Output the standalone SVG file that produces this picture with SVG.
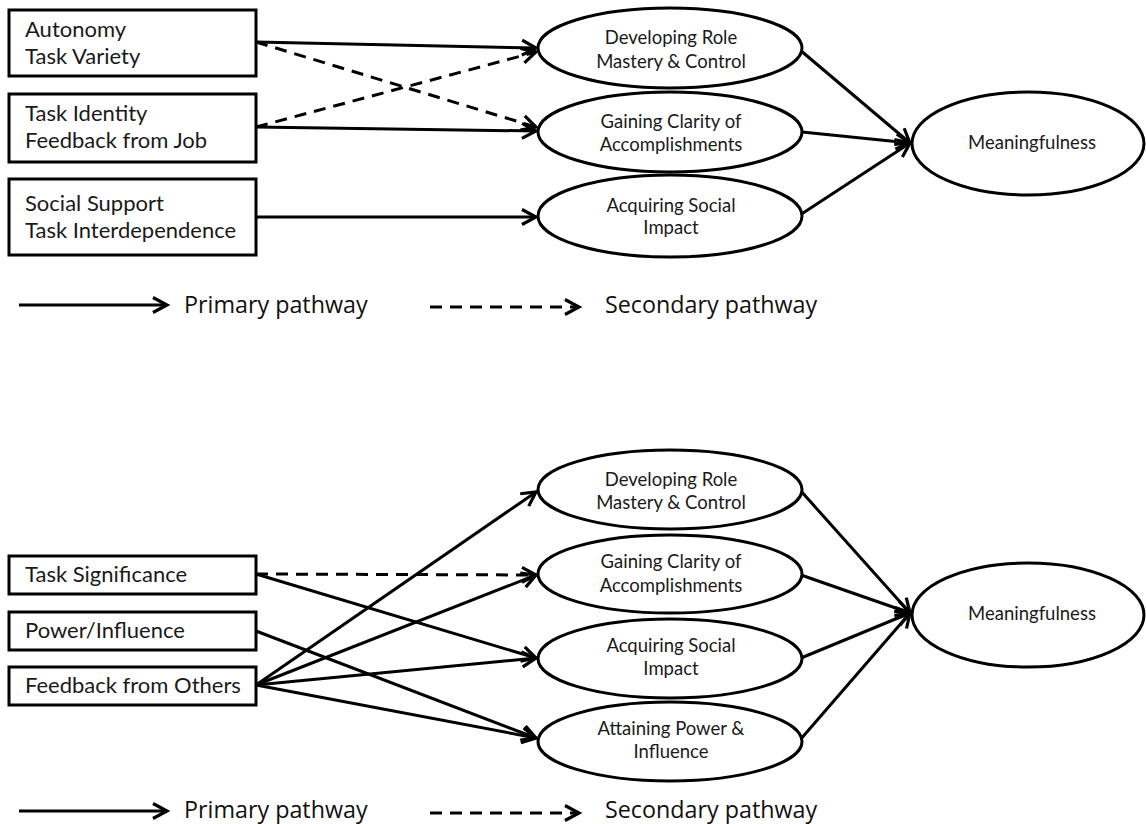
<svg xmlns="http://www.w3.org/2000/svg" width="1146" height="824" viewBox="0 0 1146 824">
  <defs>
    <style>
      .box { fill: #fff; stroke: #000; stroke-width: 3; }
      .oval { fill: #fff; stroke: #000; stroke-width: 3; }
      .lbl { font-family: Lato, "Liberation Sans", sans-serif; fill: #1a1a1a; }
      .src { font-size: 22px; }
      .mid { font-size: 18.5px; text-anchor: middle; }
      .leg { font-family: "Open Sans", "Liberation Sans", sans-serif; font-size: 23.3px; fill: #111; }
      .link { fill: none; stroke: #000; stroke-width: 3; marker-end: url(#head); }
      .dash { stroke-dasharray: 12 8; }
    </style>
    <marker id="head" viewBox="0 0 18 18" refX="16" refY="9" markerWidth="18" markerHeight="18" markerUnits="userSpaceOnUse" orient="auto" overflow="visible">
      <path d="M2,1.5 L16,9 L2,16.5" fill="none" stroke="#000" stroke-width="3.2" stroke-dasharray="none" stroke-linejoin="miter"/>
    </marker>
  </defs>
  <rect width="1146" height="824" fill="#fff"/>

  <!-- upper model: connectors -->
  <g id="connectors-upper">
    <line class="link" x1="256" y1="42" x2="536" y2="48"/>
    <line class="link dash" x1="256" y1="42" x2="536" y2="127"/>
    <line class="link dash" x1="256" y1="127" x2="536" y2="52"/>
    <line class="link" x1="256" y1="127" x2="536" y2="131"/>
    <line class="link" x1="256" y1="217" x2="536" y2="217"/>
    <line class="link" x1="800" y1="50" x2="910" y2="143"/>
    <line class="link" x1="802" y1="132" x2="910" y2="143"/>
    <line class="link" x1="800" y1="215" x2="910" y2="143"/>
  </g>

  <g id="autonomy-variety">
    <rect class="box" x="9" y="10" width="247" height="66"/>
    <text class="lbl src" x="25" y="36.5">Autonomy</text>
    <text class="lbl src" x="25" y="64">Task Variety</text>
  </g>
  <g id="identity-feedback-job">
    <rect class="box" x="9" y="94" width="247" height="68"/>
    <text class="lbl src" x="25" y="121">Task Identity</text>
    <text class="lbl src" x="25" y="148">Feedback from Job</text>
  </g>
  <g id="support-interdependence">
    <rect class="box" x="9" y="179" width="247" height="76"/>
    <text class="lbl src" x="25" y="211">Social Support</text>
    <text class="lbl src" x="25" y="238">Task Interdependence</text>
  </g>

  <g id="mastery-upper">
    <ellipse class="oval" cx="670" cy="48" rx="132" ry="40"/>
    <text class="lbl mid" x="671" y="44">Developing Role</text>
    <text class="lbl mid" x="671" y="68">Mastery &amp; Control</text>
  </g>
  <g id="clarity-upper">
    <ellipse class="oval" cx="670" cy="132" rx="132" ry="40"/>
    <text class="lbl mid" x="671" y="128">Gaining Clarity of</text>
    <text class="lbl mid" x="671" y="151">Accomplishments</text>
  </g>
  <g id="impact-upper">
    <ellipse class="oval" cx="670" cy="216" rx="132" ry="41"/>
    <text class="lbl mid" x="671" y="212">Acquiring Social</text>
    <text class="lbl mid" x="671" y="234">Impact</text>
  </g>
  <g id="meaning-upper">
    <ellipse class="oval" cx="1028" cy="143.5" rx="116" ry="51.5"/>
    <text class="lbl mid" x="1032" y="148.5">Meaningfulness</text>
  </g>

  <g id="legend-upper">
    <line class="link" x1="19" y1="305" x2="167" y2="305"/>
    <text class="leg" x="184" y="313">Primary pathway</text>
    <line class="link dash" x1="430" y1="307" x2="579" y2="307"/>
    <text class="leg" x="605" y="313">Secondary pathway</text>
  </g>

  <!-- lower model: connectors -->
  <g id="connectors-lower">
    <line class="link dash" x1="256" y1="574" x2="536" y2="575"/>
    <line class="link" x1="256" y1="574" x2="536" y2="658"/>
    <line class="link" x1="256" y1="631" x2="536" y2="738"/>
    <line class="link" x1="256" y1="685" x2="536" y2="492"/>
    <line class="link" x1="256" y1="685" x2="536" y2="575"/>
    <line class="link" x1="256" y1="685" x2="536" y2="658"/>
    <line class="link" x1="256" y1="685" x2="536" y2="738"/>
    <line class="link" x1="800" y1="490" x2="910" y2="613"/>
    <line class="link" x1="801" y1="575" x2="910" y2="613"/>
    <line class="link" x1="801" y1="658" x2="910" y2="613"/>
    <line class="link" x1="800" y1="740" x2="910" y2="613"/>
  </g>

  <g id="significance">
    <rect class="box" x="9" y="556" width="247" height="38"/>
    <text class="lbl src" x="25" y="582">Task Significance</text>
  </g>
  <g id="power-influence">
    <rect class="box" x="9" y="612" width="247" height="38"/>
    <text class="lbl src" x="25" y="638">Power/Influence</text>
  </g>
  <g id="feedback-others">
    <rect class="box" x="9" y="667" width="247" height="38"/>
    <text class="lbl src" x="25" y="693">Feedback from Others</text>
  </g>

  <g id="mastery-lower">
    <ellipse class="oval" cx="670" cy="489.5" rx="132" ry="39.5"/>
    <text class="lbl mid" x="671" y="486">Developing Role</text>
    <text class="lbl mid" x="671" y="509">Mastery &amp; Control</text>
  </g>
  <g id="clarity-lower">
    <ellipse class="oval" cx="670" cy="574" rx="132" ry="39"/>
    <text class="lbl mid" x="671" y="568">Gaining Clarity of</text>
    <text class="lbl mid" x="671" y="592">Accomplishments</text>
  </g>
  <g id="impact-lower">
    <ellipse class="oval" cx="670" cy="658.5" rx="132" ry="39.5"/>
    <text class="lbl mid" x="671" y="652">Acquiring Social</text>
    <text class="lbl mid" x="671" y="675">Impact</text>
  </g>
  <g id="power-lower">
    <ellipse class="oval" cx="670" cy="741.5" rx="132" ry="39.5"/>
    <text class="lbl mid" x="671" y="735">Attaining Power &amp;</text>
    <text class="lbl mid" x="671" y="758">Influence</text>
  </g>
  <g id="meaning-lower">
    <ellipse class="oval" cx="1028" cy="615" rx="116" ry="52"/>
    <text class="lbl mid" x="1032" y="620">Meaningfulness</text>
  </g>

  <g id="legend-lower">
    <line class="link" x1="19" y1="811" x2="167" y2="811"/>
    <text class="leg" x="184" y="818">Primary pathway</text>
    <line class="link dash" x1="430" y1="813" x2="579" y2="813"/>
    <text class="leg" x="605" y="818">Secondary pathway</text>
  </g>
</svg>
